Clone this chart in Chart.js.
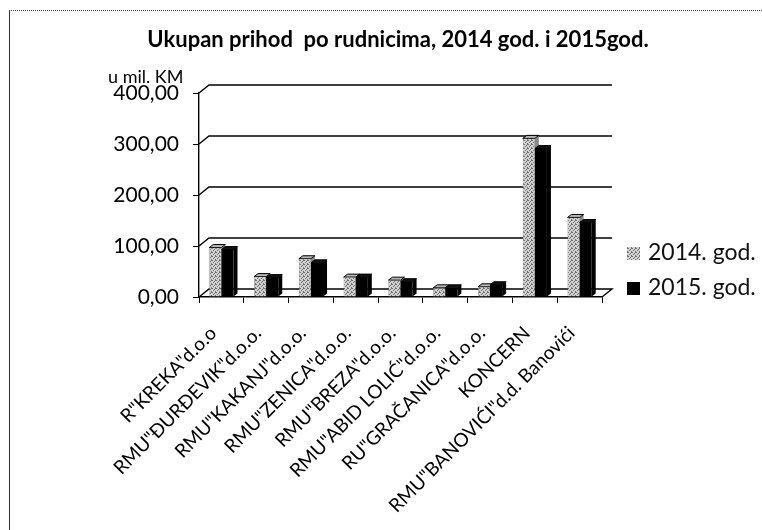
<!DOCTYPE html>
<html>
<head>
<meta charset="utf-8">
<script src="https://cdn.jsdelivr.net/npm/chart.js@4.4.1/dist/chart.umd.min.js"></script>
<style>
  body { margin: 0; background: #fff; }
  #wrap { position: relative; width: 762px; height: 530px; }
  #frame { position: absolute; left: 9px; top: 10px; right: 0; bottom: 0;
           border-left: 1px solid #333; border-top: 1px dotted #444; pointer-events: none; }
</style>
</head>
<body>
<div id="wrap">
  <canvas id="prihod_chart" width="762" height="530"></canvas>
  <div id="frame"></div>
</div>
<script>
// categories (mines) and the two years
const categories = [
    'R"KREKA"d.o.o',
    'RMU"ĐURĐEVIK"d.o.o.',
    'RMU"KAKANJ"d.o.o.',
    'RMU"ZENICA"d.o.o.',
    'RMU"BREZA"d.o.o.',
    'RMU"ABID LOLIĆ"d.o.o.',
    'RU"GRAČANICA"d.o.o.',
    'KONCERN',
    'RMU"BANOVIĆI"d.d. Banovići'
];
const values_2014 = [97, 40, 75, 39, 33, 18, 20, 311, 156];
const values_2015 = [93, 38, 67, 39, 30, 18, 24, 291, 146];
const series_labels = ['2014. god.', '2015. god.'];
const y_ticks = [0, 100, 200, 300, 400];
const y_tick_labels = ['0,00', '100,00', '200,00', '300,00', '400,00'];
const title_text = 'Ukupan prihod  po rudnicima, 2014 god. i 2015god.';
const unit_text = 'u mil. KM';

const FONT = 'Lato';
const DX = 10, DY = 8;      // back wall offset
const BDX = 4, BDY = 3;     // bar depth

// stippled grey for 2014
var canvas = document.getElementById('prihod_chart');
var ctx0 = canvas.getContext('2d');
var pc = document.createElement('canvas');
pc.width = 4; pc.height = 4;
var p = pc.getContext('2d');
p.fillStyle = '#d2d2d2';
p.fillRect(0, 0, 4, 4);
p.fillStyle = '#6f6f6f';
[[0, 0], [2, 1], [1, 2], [3, 3], [3, 0]].forEach(function (d) { p.fillRect(d[0], d[1], 1, 1); });
var grey = ctx0.createPattern(pc, 'repeat');

const front_colours = [grey, '#000000'];
const side_colours = ['#8a8a8a', '#000000'];
const top_colours = ['#b5b5b5', '#111111'];

// walls, floor and the side/top faces of the bars
const depthPlugin = {
    id: 'depth',
    beforeDatasetsDraw(chart) {
        const ctx = chart.ctx;
        const a = chart.chartArea;
        const ys = chart.scales.y;
        ctx.save();
        ctx.strokeStyle = '#000';
        ctx.lineWidth = 1.4;
        y_ticks.forEach(function (v) {
            const py = ys.getPixelForValue(v);
            ctx.beginPath();
            ctx.moveTo(a.left, py);
            ctx.lineTo(a.left + DX, py - DY);
            ctx.lineTo(a.right + DX, py - DY);
            if (v === 0) ctx.lineTo(a.right, py);
            ctx.stroke();
        });

        chart.data.datasets.forEach(function (ds, i) {
            const meta = chart.getDatasetMeta(i);
            meta.data.forEach(function (bar) {
                const pr = bar.getProps(['x', 'y', 'base', 'width'], true);
                const l = pr.x - pr.width / 2, r = pr.x + pr.width / 2;
                // side
                ctx.fillStyle = side_colours[i];
                ctx.beginPath();
                ctx.moveTo(r, pr.y);
                ctx.lineTo(r + BDX, pr.y - BDY);
                ctx.lineTo(r + BDX, pr.base - BDY);
                ctx.lineTo(r, pr.base);
                ctx.closePath();
                ctx.fill();
                // top
                ctx.fillStyle = top_colours[i];
                ctx.beginPath();
                ctx.moveTo(l, pr.y);
                ctx.lineTo(l + BDX, pr.y - BDY);
                ctx.lineTo(r + BDX, pr.y - BDY);
                ctx.lineTo(r, pr.y);
                ctx.closePath();
                ctx.fill();
                ctx.lineWidth = 1;
                ctx.stroke();
            });
        });
        ctx.restore();
    },
    afterDraw(chart) {
        const ctx = chart.ctx;
        const a = chart.chartArea;
        ctx.save();
        ctx.fillStyle = '#000';
        ctx.textBaseline = 'middle';
        // title, centred a little right of the canvas middle like the original
        ctx.font = 'bold 22px ' + FONT;
        ctx.textAlign = 'center';
        ctx.fillText(title_text, 398, 40);
        // unit above the axis
        ctx.font = '18px ' + FONT;
        ctx.textAlign = 'left';
        ctx.fillText(unit_text, a.left - 91, a.top - 16);
        // legend
        ctx.font = '23px ' + FONT;
        series_labels.forEach(function (lab, i) {
            const ly = a.top + 160 + i * 35;
            ctx.fillStyle = front_colours[i];
            ctx.fillRect(a.right + 25, ly - 6, 13, 13);
            ctx.fillStyle = '#111';
            ctx.fillText(lab, a.right + 46, ly);
        });
        ctx.restore();
    }
};

const datasets = [values_2014, values_2015].map(function (vals, i) {
    return {
        label: series_labels[i],
        data: vals,
        backgroundColor: front_colours[i],
        borderColor: i == 0 ? '#666' : '#000',
        borderWidth: i == 0 ? 0.6 : 0,
        categoryPercentage: 0.54,
        barPercentage: 1.0
    };
});

new Chart(canvas, {
    type: 'bar',
    data: { labels: categories, datasets: datasets },
    plugins: [depthPlugin],
    options: {
        responsive: false,
        animation: false,
        layout: { padding: { left: 0, right: 160, top: 93, bottom: 0 } },
        plugins: {
            legend: { display: false },
            tooltip: { enabled: false },
            title: { display: false }
        },
        scales: {
            x: {
                grid: { drawOnChartArea: false, color: '#000', tickLength: 6, offset: true },
                border: { color: '#000', width: 1.4 },
                ticks: {
                    color: '#000',
                    font: { family: FONT, size: 19 },
                    minRotation: 45, maxRotation: 45,
                    autoSkip: false,
                    padding: 19,
                    labelOffset: -8
                },
                afterFit: function (s) { s.height = 233; }
            },
            y: {
                min: 0, max: 400,
                afterBuildTicks: function (s) { s.ticks = y_ticks.map(function (v) { return { value: v }; }); },
                grid: { drawOnChartArea: false, color: '#000', tickLength: 6 },
                border: { color: '#000', width: 1.4 },
                ticks: {
                    color: '#000',
                    font: { family: FONT, size: 21 },
                    padding: 14,
                    callback: function (v) { return y_tick_labels[y_ticks.indexOf(v)]; }
                },
                afterFit: function (s) { s.width = 199; }
            }
        }
    }
});
</script>
</body>
</html>
